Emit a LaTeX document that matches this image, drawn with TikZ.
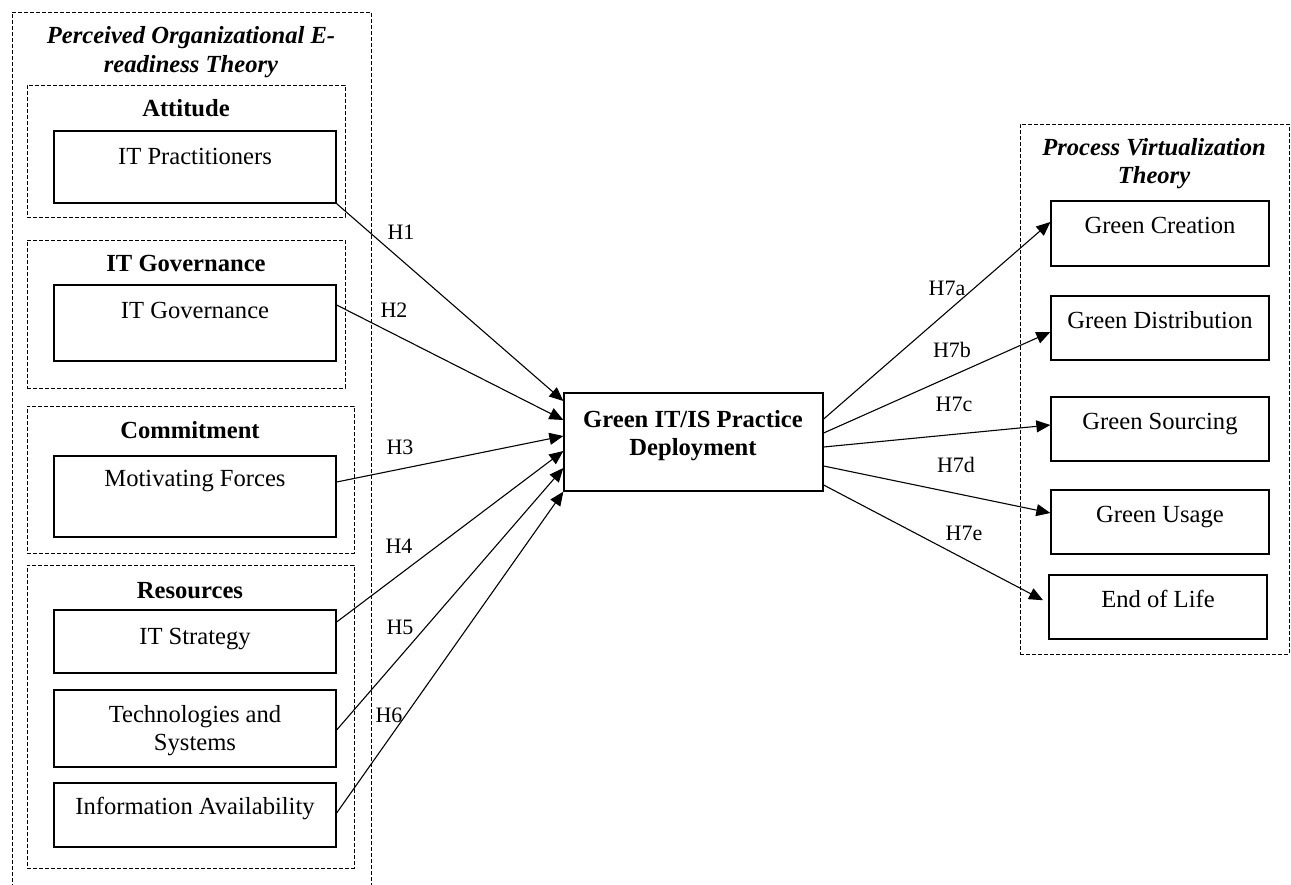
\documentclass[tikz,border=0pt]{standalone}
\usepackage{fontspec}
\setmainfont{Liberation Serif}
\usetikzlibrary{fit,arrows.meta}
\begin{document}
\begin{tikzpicture}[x=0.5pt,y=-0.5pt,
  group/.style={draw, line width=0.5pt, dash pattern=on 2pt off 1pt, inner sep=0pt},
  box/.style={draw, line width=0.65pt, inner sep=0pt},
  txt/.style={anchor=base, inner sep=0pt, font=\fontsize{12.3}{14}\selectfont},
  head/.style={anchor=base, inner sep=0pt, font=\fontsize{12.3}{14}\selectfont\bfseries},
  theory/.style={anchor=base, inner sep=0pt, font=\fontsize{12.3}{14}\selectfont\bfseries\itshape},
  hyp/.style={anchor=base, inner sep=0pt, font=\fontsize{11}{13}\selectfont},
  link/.style={line width=0.55pt, -{Triangle[length=7pt,width=6pt]}}]
\clip (0,0) rectangle (1291,884);

% ---- Perceived Organizational E-readiness Theory
\node[group, fit={(12,12) (371,900)}] (poe) {};
\node[theory] (poe-t1) at (191,43) {Perceived Organizational E-};
\node[theory] (poe-t2) at (191,72) {readiness Theory};

\node[group, fit={(27,85) (345,217)}] (g-att) {};
\node[head] (g-att-t) at (186,116) {Attitude};
\node[box, fit={(54,131) (336,203)}] (itp) {};
\node[txt] (itp-t) at (195,164) {IT Practitioners};

\node[group, fit={(27,240) (345,388)}] (g-gov) {};
\node[head] (g-gov-t) at (186,271) {IT Governance};
\node[box, fit={(54,285) (336,361)}] (itg) {};
\node[txt] (itg-t) at (195,318) {IT Governance};

\node[group, fit={(27,406) (354,553)}] (g-com) {};
\node[head] (g-com-t) at (190,438) {Commitment};
\node[box, fit={(54,456) (336,537)}] (mf) {};
\node[txt] (mf-t) at (195,486) {Motivating Forces};

\node[group, fit={(27,565) (354,868)}] (g-res) {};
\node[head] (g-res-t) at (190,598) {Resources};
\node[box, fit={(54,610) (336,673)}] (its) {};
\node[txt] (its-t) at (195,644) {IT Strategy};
\node[box, fit={(54,690) (336,767)}] (tas) {};
\node[txt] (tas-t1) at (195,722) {Technologies and};
\node[txt] (tas-t2) at (195,750) {Systems};
\node[box, fit={(54,783) (336,847)}] (ia) {};
\node[txt] (ia-t) at (195,814) {Information Availability};

% ---- central construct
\node[box, fit={(564,393) (823,491)}] (dep) {};
\node[head] (dep-t1) at (693,427) {Green IT/IS Practice};
\node[head] (dep-t2) at (693,455) {Deployment};

% ---- Process Virtualization Theory
\node[group, fit={(1020,124) (1289,654)}] (pvt) {};
\node[theory] (pvt-t1) at (1154,155) {Process Virtualization};
\node[theory] (pvt-t2) at (1154,183) {Theory};
\node[box, fit={(1051,201) (1269,266)}] (gc) {};
\node[txt] (gc-t) at (1160,233) {Green Creation};
\node[box, fit={(1051,296) (1269,360)}] (gd) {};
\node[txt] (gd-t) at (1160,328) {Green Distribution};
\node[box, fit={(1051,397) (1269,461)}] (gs) {};
\node[txt] (gs-t) at (1160,429) {Green Sourcing};
\node[box, fit={(1051,490) (1269,554)}] (gu) {};
\node[txt] (gu-t) at (1160,522) {Green Usage};
\node[box, fit={(1049,575) (1267,639)}] (eol) {};
\node[txt] (eol-t) at (1158,607) {End of Life};

% ---- hypotheses H1--H6
\draw[link] (itp.south east) -- (dep.west |- 0,401);
\draw[link] (itg.east |- 0,305) -- (dep.west |- 0,420);
\draw[link] (mf.east |- 0,482) -- (dep.west |- 0,436);
\draw[link] (its.east |- 0,622) -- (dep.west |- 0,451);
\draw[link] (tas.east |- 0,730) -- (dep.west |- 0,468);
\draw[link] (ia.east |- 0,813) -- (dep.south west);

\node[hyp] (h1) at (401,239) {H1};
\node[hyp] (h2) at (394,317) {H2};
\node[hyp] (h3) at (400,454) {H3};
\node[hyp] (h4) at (399,553) {H4};
\node[hyp] (h5) at (400,634) {H5};
\node[hyp] (h6) at (389,722) {H6};

% ---- hypotheses H7a--H7e
\draw[link] (dep.east |- 0,419) -- (gc.west |- 0,222);
\draw[link] (dep.east |- 0,433) -- (gd.west |- 0,332);
\draw[link] (dep.east |- 0,447) -- (gs.west |- 0,425);
\draw[link] (dep.east |- 0,466) -- (gu.west |- 0,513);
\draw[link, shorten >=3pt] (dep.east |- 0,485) -- (eol.west |- 0,603);

\node[hyp] (h7a) at (947,295) {H7a};
\node[hyp] (h7b) at (952,357) {H7b};
\node[hyp] (h7c) at (954,411) {H7c};
\node[hyp] (h7d) at (956,472) {H7d};
\node[hyp] (h7e) at (964,540) {H7e};
\end{tikzpicture}
\end{document}
